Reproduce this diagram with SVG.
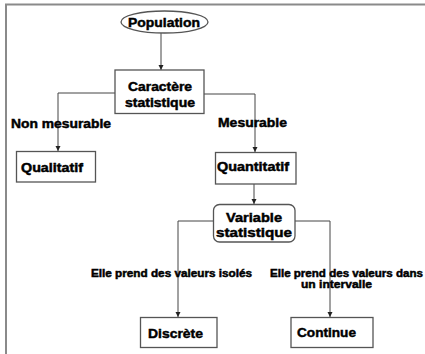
<svg xmlns="http://www.w3.org/2000/svg" width="425" height="354" viewBox="0 0 425 354">
<defs>
<style>
.n{fill:#fff;stroke:#555;stroke-width:1.3}
.t{font-family:"Liberation Sans",Arial,sans-serif;font-weight:bold;fill:#000;stroke:#000;stroke-width:0.45;text-anchor:middle}
.c{fill:none;stroke:#444;stroke-width:1}
.frame{stroke:#8a8a8a;stroke-width:2;fill:none}
</style>
<marker id="a" markerWidth="6" markerHeight="6" refX="5" refY="3" orient="auto" markerUnits="userSpaceOnUse">
<path d="M0,0.5 L5,3 L0,5.5 Z" fill="#222"/>
</marker>
</defs>
<path class="frame" d="M6,354 V4.5 H425"/>
<g id="connectors">
<path class="c" d="M161,33 V70" marker-end="url(#a)"/>
<path class="c" d="M115,93 H58 V151" marker-end="url(#a)"/>
<path class="c" d="M204,94 H255 V152" marker-end="url(#a)"/>
<path class="c" d="M254,184 V204" marker-end="url(#a)"/>
<path class="c" d="M213,221 H178 V317" marker-end="url(#a)"/>
<path class="c" d="M295,221 H330 V317" marker-end="url(#a)"/>
</g>
<g id="population">
<ellipse class="n" cx="164.5" cy="22" rx="43.5" ry="11"/>
<text class="t" x="164" y="27" font-size="13" textLength="72" lengthAdjust="spacingAndGlyphs">Population</text>
</g>
<g id="caractere">
<rect class="n" x="115" y="70" width="89" height="43.5"/>
<text class="t" x="160" y="91" font-size="12" textLength="64" lengthAdjust="spacingAndGlyphs">Caractère</text>
<text class="t" x="160" y="107" font-size="12" textLength="70" lengthAdjust="spacingAndGlyphs">statistique</text>
</g>
<g id="label-non-mesurable">
<text class="t" x="61" y="128" font-size="12" textLength="100" lengthAdjust="spacingAndGlyphs">Non mesurable</text>
</g>
<g id="label-mesurable">
<text class="t" x="252.5" y="127" font-size="12" textLength="69" lengthAdjust="spacingAndGlyphs">Mesurable</text>
</g>
<g id="qualitatif">
<rect class="n" x="16.5" y="151.5" width="79" height="30.5"/>
<text class="t" x="52" y="172" font-size="12" textLength="62" lengthAdjust="spacingAndGlyphs">Qualitatif</text>
</g>
<g id="quantitatif">
<rect class="n" x="215.5" y="152.5" width="80.5" height="31.5"/>
<text class="t" x="253" y="171" font-size="12" textLength="72" lengthAdjust="spacingAndGlyphs">Quantitatif</text>
</g>
<g id="variable">
<rect class="n" x="213.5" y="204.5" width="81.5" height="37.5" rx="6" ry="6"/>
<text class="t" x="254" y="222" font-size="12.5" textLength="56" lengthAdjust="spacingAndGlyphs">Variable</text>
<text class="t" x="254" y="237" font-size="12.5" textLength="76" lengthAdjust="spacingAndGlyphs">statistique</text>
</g>
<g id="label-isoles">
<text class="t" x="171.5" y="277" font-size="10" textLength="161" lengthAdjust="spacingAndGlyphs">Elle prend des valeurs isolés</text>
</g>
<g id="label-intervalle">
<text class="t" x="346.5" y="277" font-size="10" textLength="153" lengthAdjust="spacingAndGlyphs">Elle prend des valeurs dans</text>
<text class="t" x="336.5" y="288" font-size="10" textLength="71" lengthAdjust="spacingAndGlyphs">un intervalle</text>
</g>
<g id="discrete">
<rect class="n" x="140.5" y="317.5" width="76.5" height="30"/>
<text class="t" x="175.5" y="338" font-size="13" textLength="55" lengthAdjust="spacingAndGlyphs">Discrète</text>
</g>
<g id="continue">
<rect class="n" x="291" y="317.5" width="82" height="30"/>
<text class="t" x="326.5" y="337" font-size="13" textLength="59" lengthAdjust="spacingAndGlyphs">Continue</text>
</g>
</svg>
